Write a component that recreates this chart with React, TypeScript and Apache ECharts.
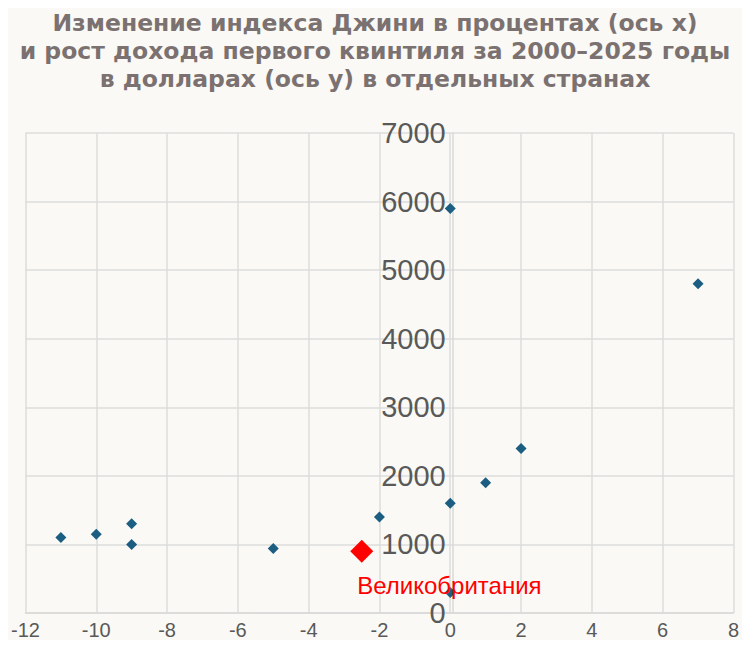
import React, { useEffect, useRef } from "react";
import * as echarts from "echarts";

const titleText =
  "Изменение индекса Джини в процентах (ось x)\nи рост дохода первого квинтиля за 2000–2025 годы\nв долларах (ось y) в отдельных странах";

const giniChange = [-11, -10, -9, -9, -5, -2, 0, 0, 0, 1, 2, 7];
const incomeGrowth = [1100, 1150, 1300, 1000, 940, 1400, 5900, 1600, 300, 1900, 2400, 4800];

const highlightName = "Великобритания";
const highlightGini = [-2.5];
const highlightIncome = [900];

const xMin = -12;
const xMax = 8;

export default function App() {
  const ref = useRef<HTMLDivElement>(null);
  useEffect(() => {
    if (!ref.current) return;
    const chart = echarts.init(ref.current, undefined, { renderer: "svg" });
    const font = "'Liberation Sans', Arial, sans-serif";
    const gridLeft = 17;
    const gridRight = 5;
    const gridWidth = 734 - gridLeft - gridRight;
    const yOffset = -((0 - xMin) / (xMax - xMin)) * gridWidth;
    chart.setOption({
      animation: false,
      backgroundColor: "#faf9f5",
      title: {
        text: titleText,
        left: "center",
        top: 1,
        padding: 0,
        textStyle: {
          fontFamily: "'DejaVu Sans', sans-serif",
          fontSize: 23.5,
          fontWeight: "bold",
          lineHeight: 28,
          color: "#7b7170",
        },
      },
      grid: { left: gridLeft, right: gridRight, top: 125, bottom: 21, containLabel: false },
      xAxis: {
        type: "value",
        min: xMin,
        max: xMax,
        interval: 2,
        axisLine: { show: true, onZero: true, lineStyle: { color: "#d9d9d9", width: 1.5 } },
        axisTick: { show: false },
        axisLabel: { color: "#595959", fontSize: 20, fontFamily: font, margin: 7 },
        splitLine: { show: true, lineStyle: { color: "#dcdcdc", width: 1.5 } },
      },
      yAxis: {
        type: "value",
        min: 0,
        max: 7000,
        interval: 1000,
        offset: yOffset,
        axisLine: { show: true, onZero: false, lineStyle: { color: "#d9d9d9", width: 1.5 } },
        axisTick: { show: false },
        axisLabel: {
          color: "#595959",
          fontSize: 29,
          fontFamily: font,
          margin: 7,
          formatter: (v: number) => String(v),
        },
        splitLine: { show: true, lineStyle: { color: "#dcdcdc", width: 1.5 } },
      },
      series: [
        {
          type: "scatter",
          symbol: "diamond",
          symbolSize: 11,
          itemStyle: { color: "#1b5e82", opacity: 1 },
          data: giniChange.map((x, i) => [x, incomeGrowth[i]]),
          z: 3,
        },
        {
          type: "scatter",
          symbol: "diamond",
          symbolSize: 23,
          itemStyle: { color: "#ff0000", opacity: 1 },
          data: highlightGini.map((x, i) => [x, highlightIncome[i]]),
          label: {
            show: true,
            formatter: highlightName,
            position: [7, 46],
            align: "left",
            verticalAlign: "middle",
            color: "#ff0000",
            fontSize: 24,
            fontFamily: font,
          },
          z: 4,
        },
      ],
    });
    return () => chart.dispose();
  }, []);
  return <div ref={ref} style={{ width: 734, height: 632 }} />;
}
